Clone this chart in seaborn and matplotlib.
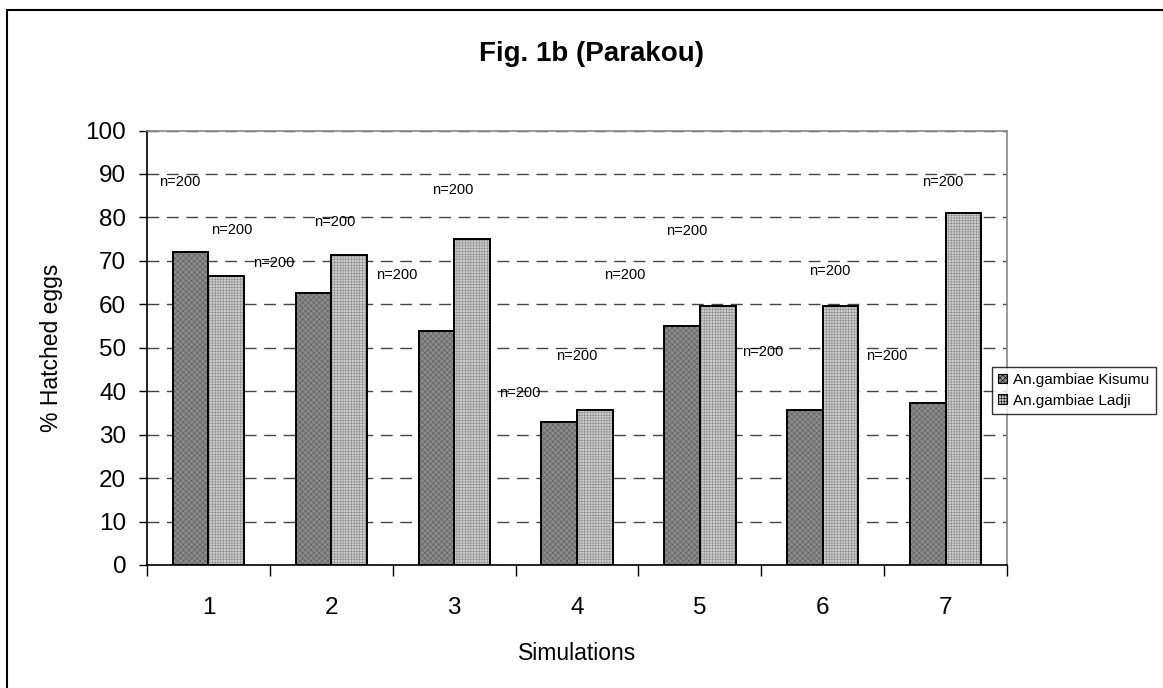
import matplotlib
matplotlib.use("Agg")
import matplotlib.pyplot as plt
import seaborn as sns
import pandas as pd
from matplotlib.patches import Rectangle
from matplotlib.lines import Line2D

# data
simulations = ["1", "2", "3", "4", "5", "6", "7"]
kisumu = [72.1, 62.7, 53.8, 32.8, 54.9, 35.7, 37.3]
ladji = [66.4, 71.3, 75.0, 35.6, 59.7, 59.5, 80.9]
n_labels = ["n=200"] * 14
strains = ["An.gambiae Kisumu", "An.gambiae Ladji"]

# where the n=200 labels sit (category units, % units)
lab_x = [-0.23, 0.19, 0.53, 1.03, 1.53, 1.99, 2.53, 3.0, 3.39, 3.89, 4.51, 5.06, 5.52, 5.98]
lab_y = [88.2, 77.0, 69.4, 78.9, 66.8, 86.4, 39.6, 48.2, 66.8, 76.8, 49.0, 67.7, 48.0, 88.2]

df = pd.DataFrame({
    "Simulations": simulations * 2,
    "value": kisumu + ladji,
    "Strain": [strains[0]] * 7 + [strains[1]] * 7,
})

sns.set_style("white")
plt.rcParams["font.family"] = ["Liberation Sans", "DejaVu Sans"]
plt.rcParams["hatch.linewidth"] = 0.4
for k in ["text.color", "axes.labelcolor", "xtick.color", "ytick.color"]:
    plt.rcParams[k] = "black"

fig = plt.figure(figsize=(11.63, 6.88), dpi=100)
ax = fig.add_axes([0.1264, 0.1788, 0.8659 - 0.1264, 0.8103 - 0.1788])

fills = {strains[0]: "#8a8a8a", strains[1]: "#cccccc"}
hatches = {strains[0]: "xxxxxx", strains[1]: "++++++"}
hcols = {strains[0]: "#5e5e5e", strains[1]: "#8c8c8c"}

sns.barplot(data=df, x="Simulations", y="value", hue="Strain", palette=fills,
            width=0.58, gap=0, ax=ax, legend=False, zorder=3)

# texture + black outline on each bar
bars = [p for p in ax.patches if isinstance(p, Rectangle) and p.get_height() > 0]
for i, p in enumerate(bars):
    s = strains[0] if i < 7 else strains[1]
    p.set_hatch(hatches[s])
    p.set_edgecolor(hcols[s])
    p.set_linewidth(0)
    ax.add_patch(Rectangle(p.get_xy(), p.get_width(), p.get_height(), fill=False,
                           ec="black", lw=1.4, zorder=4))

for x, y, t in zip(lab_x, lab_y, n_labels):
    ax.text(x, y, t, ha="center", va="center", fontsize=10.5, zorder=5)

ax.set_ylim(0, 100)
ax.set_xlim(-0.5, 6.5)
ax.set_yticks(range(0, 101, 10))
ax.yaxis.grid(True, linestyle=(0, (8.5, 5.5)), color="#444444", linewidth=1)
ax.set_axisbelow(True)
ax.tick_params(axis="y", which="major", left=True, length=6, width=1, labelsize=17.5, pad=9)
ax.tick_params(axis="x", which="major", length=0, labelsize=17.5, pad=23)
ax.set_xticks([i - 0.5 for i in range(8)], minor=True)
ax.tick_params(axis="x", which="minor", bottom=True, length=8, width=1)

for side in ["left", "bottom"]:
    ax.spines[side].set_color("black")
    ax.spines[side].set_linewidth(1.2)
for side in ["top", "right"]:
    ax.spines[side].set_color("#888888")
    ax.spines[side].set_linewidth(1.2)

ax.set_xlabel("Simulations", fontsize=16.5)
ax.set_ylabel("% Hatched eggs", fontsize=16.5)
ax.xaxis.set_label_coords(0.5, -0.177)
ax.yaxis.set_label_coords(-0.098, 0.5)
fig.text(0.509, 0.922, "Fig. 1b (Parakou)", ha="center", va="center",
         fontsize=20, fontweight="bold")

handles = [Rectangle((0, 0), 1, 1, facecolor=fills[s], hatch=hatches[s], edgecolor="black", lw=0.8)
           for s in strains]
leg = fig.legend(handles, strains, loc="upper left", bbox_to_anchor=(0.853, 0.467),
                 fontsize=11, frameon=True, fancybox=False, edgecolor="black",
                 handlelength=0.6, handleheight=0.6, handletextpad=0.4, borderpad=0.4,
                 labelspacing=0.45, borderaxespad=0)
leg.get_frame().set_linewidth(1)

# frame of the chart area (top and left edges visible)
fig.add_artist(Line2D([0.006, 0.006], [0, 0.986], transform=fig.transFigure, color="black", lw=1.5))
fig.add_artist(Line2D([0.006, 1], [0.986, 0.986], transform=fig.transFigure, color="black", lw=1.5))

fig.savefig("out.png", dpi=100)
